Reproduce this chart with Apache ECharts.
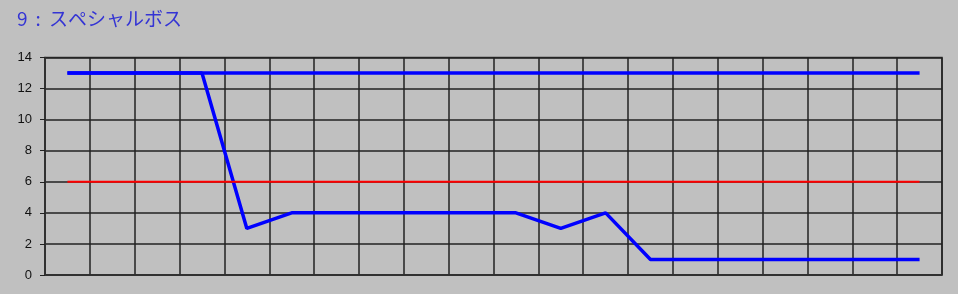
<!DOCTYPE html>
<html><head><meta charset="utf-8">
<script src="https://cdn.jsdelivr.net/npm/echarts@6/dist/echarts.min.js"></script>
<style>html,body{margin:0;padding:0;background:#c0c0c0}#c{width:958px;height:294px}</style>
</head><body><div id="c"></div>
<script>
const titleText = '9 : スペシャルボス';
const categories = ['1','2','3','4','5','6','7','8','9','10','11','12','13','14','15','16','17','18','19','20'];
const seriesMax = [13,13,13,13,13,13,13,13,13,13,13,13,13,13,13,13,13,13,13,13];
const seriesVal = [13,13,13,13,3,4,4,4,4,4,4,3,4,1,1,1,1,1,1,1];
const seriesRef = [6,6,6,6,6,6,6,6,6,6,6,6,6,6,6,6,6,6,6,6];
const yTicks = [0,2,4,6,8,10,12,14];

const chart = echarts.init(document.getElementById('c'), null, {renderer:'canvas'});
chart.setOption({
  backgroundColor:'#c0c0c0',
  animation:false,
  title:{text:titleText.replace(' : ', '\u2009 : \u2009'),left:12,top:4,textStyle:{color:'#3434d4',fontSize:19,fontWeight:'normal',fontFamily:'Noto Sans CJK JP'}},
  grid:{left:45,right:16,top:57.5,bottom:19,show:true,borderColor:'#333',borderWidth:1.5,backgroundColor:'transparent'},
  xAxis:{type:'category',data:categories,boundaryGap:true,
    axisLine:{show:true,lineStyle:{color:'#333',width:1.5}},axisTick:{show:false},axisLabel:{show:false},
    splitLine:{show:true,lineStyle:{color:'#222',width:1.5}}},
  yAxis:{type:'value',min:0,max:14,interval:2,
    axisLine:{show:true,lineStyle:{color:'#333',width:1.5}},
    axisTick:{show:true,length:5,lineStyle:{color:'#222'}},
    axisLabel:{color:'#111',fontSize:13,margin:13,fontFamily:'Liberation Sans',formatter:v=>yTicks.includes(v)?String(v):''},
    splitLine:{show:true,lineStyle:{color:'#222',width:1.5}}},
  series:[
    {type:'line',data:seriesRef,symbol:'none',lineStyle:{color:'#ff0000',width:2},z:5},
    {type:'line',data:seriesMax,symbol:'none',lineStyle:{color:'#0000ff',width:3.5},z:3},
    {type:'line',data:seriesVal,symbol:'none',lineStyle:{color:'#0000ff',width:3.5},z:4}
  ]
});
</script></body></html>
